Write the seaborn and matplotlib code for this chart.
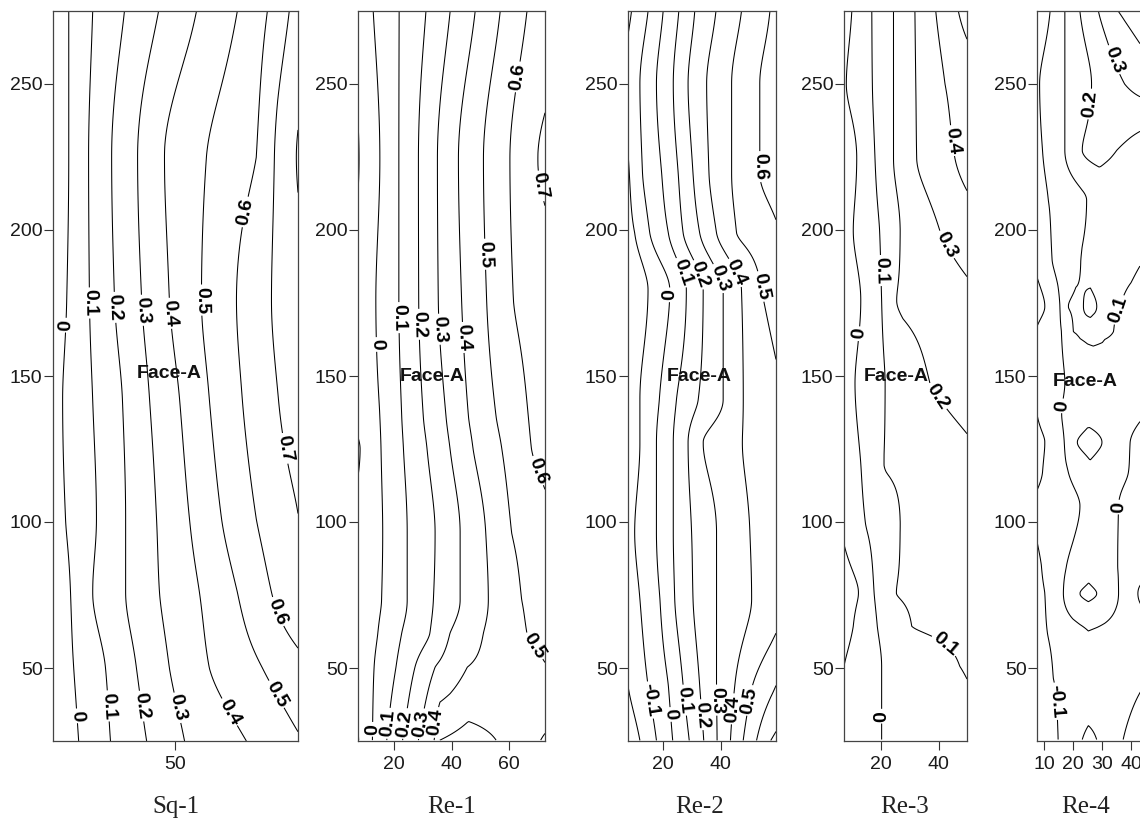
import numpy as np
import matplotlib
matplotlib.use("Agg")
import matplotlib.pyplot as plt
import seaborn as sns

# ------------------------------------------------------------------ data
# Each panel: rows of y (bottom -> top); for every row, x-nodes and the
# field value read at those nodes (contour crossings).
panel_names = ["Sq-1", "Re-1", "Re-2", "Re-3", "Re-4"]
contour_levels = [-0.3, -0.2, -0.1, 0.0, 0.1, 0.2, 0.3, 0.4, 0.5, 0.6, 0.7, 0.8, 0.9]

sq1_y = [25, 50, 76, 101, 142, 176, 225, 275]
sq1_x = [[8, 16.8, 27.7, 40.1, 53.1, 74.3, 92],
         [8, 15.1, 26.0, 36.6, 47.9, 61.6, 79.8, 92],
         [8, 14.0, 21.6, 32.9, 44.5, 58.2, 71.2, 82.9, 92],
         [8, 12.3, 22.9, 32.9, 43.5, 54.8, 65.8, 77.7, 92],
         [8, 11.3, 21.6, 31.8, 41.1, 51.4, 61.6, 72.9, 85.3, 92],
         [8, 12.7, 20.5, 29.1, 38.4, 47.9, 58.9, 70.9, 82.9, 92],
         [8, 13.4, 20.2, 28.1, 37.0, 46.2, 60.6, 77.7, 83.9, 90.0, 92],
         [8, 13.4, 21.6, 32.5, 44.2, 57.2, 71.2, 81.5, 89.0, 92]]
sq1_v = [[-0.08, 0, 0.1, 0.2, 0.3, 0.4, 0.49],
         [-0.065, 0, 0.1, 0.2, 0.3, 0.4, 0.5, 0.57],
         [-0.08, 0, 0.1, 0.2, 0.3, 0.4, 0.5, 0.6, 0.678],
         [-0.04, 0, 0.1, 0.2, 0.3, 0.4, 0.5, 0.6, 0.698],
         [-0.032, 0, 0.1, 0.2, 0.3, 0.4, 0.5, 0.6, 0.7, 0.754],
         [-0.06, 0, 0.1, 0.2, 0.3, 0.4, 0.5, 0.6, 0.7, 0.77],
         [-0.079, 0, 0.1, 0.2, 0.3, 0.4, 0.5, 0.6, 0.7, 0.79, 0.804],
         [-0.066, 0, 0.1, 0.2, 0.3, 0.4, 0.5, 0.6, 0.7, 0.74]]

re1_y = [25.3, 50.3, 62, 73.3, 96.3, 125, 136.1, 176.2, 224.3, 274.7]
re1_x = [[7.5, 12.5, 17.5, 23, 28.5, 34, 36, 46, 55.5, 64, 71, 72.5],
         [7.5, 13.1, 20.7, 27.3, 34.3, 45.5, 72.5],
         [7.5, 14.4, 22.7, 32.5, 39.5, 51.1, 66.2, 72.5],
         [7.5, 15.7, 24.6, 33.7, 43.0, 52.8, 64.4, 72.5],
         [7.5, 16.1, 24.6, 34.3, 43.0, 51.9, 60.9, 72.5],
         [7.5, 15.5, 23.3, 31.5, 39.5, 47.5, 57.5, 67.8, 72.5],
         [7.5, 15.1, 22.7, 30.2, 38.1, 45.9, 55.5, 66.7, 72.5],
         [7.5, 13.7, 21.7, 28.6, 35.4, 43.5, 52.2, 61.5, 72.5],
         [7.5, 15.1, 21.7, 28.5, 35.1, 42.4, 51.1, 60.3, 70.0, 72.5],
         [7.5, 12.8, 21.8, 31.1, 39.5, 48.2, 56.9, 66.2, 72.5]]
re1_v = [[-0.105, 0, 0.1, 0.2, 0.3, 0.4, 0.5, 0.535, 0.5, 0.45, 0.4, 0.39],
         [-0.074, 0, 0.1, 0.2, 0.3, 0.4, 0.496],
         [-0.07, 0, 0.1, 0.2, 0.3, 0.4, 0.5, 0.52],
         [-0.07, 0, 0.1, 0.2, 0.3, 0.4, 0.5, 0.54],
         [-0.07, 0, 0.1, 0.2, 0.3, 0.4, 0.5, 0.57],
         [-0.11, 0, 0.1, 0.2, 0.3, 0.4, 0.5, 0.6, 0.63],
         [-0.075, 0, 0.1, 0.2, 0.3, 0.4, 0.5, 0.6, 0.65],
         [-0.07, 0, 0.1, 0.2, 0.3, 0.4, 0.5, 0.6, 0.66],
         [-0.105, 0, 0.1, 0.2, 0.3, 0.4, 0.5, 0.6, 0.7, 0.712],
         [-0.06, 0, 0.1, 0.2, 0.3, 0.4, 0.5, 0.6, 0.64]]

re2_y = [25.2, 44, 73.6, 96.5, 127.2, 142, 179.5, 199, 219.4, 250.1, 274.9]
re2_x = [[8, 12.1, 17.8, 23.4, 29.1, 34.1, 38.7, 43.3, 47.7, 52.3, 57.2, 59],
         [8, 14.9, 21.9, 27.0, 32.7, 38.5, 44.8, 50.9, 59],
         [8, 12.1, 19.0, 24.1, 30.4, 38.5, 50.6, 59],
         [8, 10.3, 17.8, 23.6, 29.9, 38.5, 50.0, 59],
         [8, 12.1, 17.8, 23.6, 28.7, 33.9, 47.4, 59],
         [8, 12.1, 18.8, 24.7, 32.2, 40.8, 47.7, 59],
         [8, 14.9, 22.4, 28.1, 33.9, 40.8, 47.1, 54.0, 59],
         [8, 10.3, 15.5, 21.9, 27.0, 32.7, 38.5, 45.4, 59],
         [8, 13.0, 19.6, 25.3, 30.4, 35.9, 43.7, 53.4, 59],
         [8, 12.1, 17.8, 23.6, 28.7, 35.1, 43.7, 53.4, 59],
         [8, 9.2, 14.9, 20.1, 25.5, 31.0, 38.3, 47.1, 56.9, 59]]
re2_v = [[-0.27, -0.2, -0.1, 0, 0.1, 0.2, 0.3, 0.4, 0.5, 0.6, 0.7, 0.72],
         [-0.2, -0.1, 0, 0.1, 0.2, 0.3, 0.4, 0.5, 0.6],
         [-0.16, -0.1, 0, 0.1, 0.2, 0.3, 0.4, 0.47],
         [-0.13, -0.1, 0, 0.1, 0.2, 0.3, 0.4, 0.47],
         [-0.16, -0.1, 0, 0.1, 0.2, 0.3, 0.4, 0.47],
         [-0.16, -0.1, 0, 0.1, 0.2, 0.3, 0.4, 0.48],
         [-0.2, -0.1, 0, 0.1, 0.2, 0.3, 0.4, 0.5, 0.55],
         [-0.13, -0.1, 0, 0.1, 0.2, 0.3, 0.4, 0.5, 0.59],
         [-0.11, 0, 0.1, 0.2, 0.3, 0.4, 0.5, 0.6, 0.63],
         [-0.07, 0, 0.1, 0.2, 0.3, 0.4, 0.5, 0.6, 0.64],
         [-0.12, -0.1, 0, 0.1, 0.2, 0.3, 0.4, 0.5, 0.6, 0.62]]

re3_y = [25.5, 50.6, 64.3, 75.7, 99.6, 120, 147.5, 175.9, 199.8, 224.7, 250, 275]
re3_x = [[7.2, 20.2, 49.7],
         [7.2, 20.2, 47.2, 49.7],
         [7.2, 10.4, 18.7, 30.6, 49.7],
         [7.2, 12.2, 17.6, 25.3, 49.7],
         [7.2, 14.6, 26.6, 49.7],
         [7.2, 13.0, 21.0, 49.7],
         [7.2, 11.0, 21.4, 36.9, 49.7],
         [7.2, 13.0, 20.2, 25.4, 49.7],
         [7.2, 10.4, 19.5, 26.6, 40.3, 49.7],
         [7.2, 11.6, 17.9, 24.3, 32.3, 45.5, 49.7],
         [7.2, 8.0, 17.0, 24.3, 32.0, 42.1, 49.7],
         [7.2, 9.9, 16.8, 24.3, 31.7, 38.9, 46.7, 49.7]]
re3_v = [[-0.07, 0, 0.08],
         [-0.1, 0, 0.1, 0.105],
         [-0.125, -0.1, 0, 0.1, 0.125],
         [-0.13, -0.1, 0, 0.1, 0.14],
         [-0.085, 0, 0.1, 0.16],
         [-0.06, 0, 0.1, 0.18],
         [-0.035, 0, 0.1, 0.2, 0.24],
         [-0.07, 0, 0.1, 0.2, 0.28],
         [-0.035, 0, 0.1, 0.2, 0.3, 0.35],
         [-0.07, 0, 0.1, 0.2, 0.3, 0.4, 0.43],
         [-0.01, 0, 0.1, 0.2, 0.3, 0.4, 0.45],
         [-0.04, 0, 0.1, 0.2, 0.3, 0.4, 0.5, 0.54]]

re4_y = [25.5, 46.6, 61.9, 75.5, 85.2, 105.6, 117, 127.3, 137, 147.7, 165.3,
         173.8, 189.8, 210.2, 227.3, 250, 274.8]
re4_x = [[7.6, 14.9, 19, 25.3, 31.6, 37.3, 43, 50],
         [7.6, 13.2, 25, 35, 43, 50],
         [7.6, 11.2, 25.3, 35, 43, 50],
         [7.6, 10.3, 16.7, 20, 22.4, 25.3, 28.2, 31, 35.7, 39, 43.5, 50],
         [7.6, 9.1, 17.8, 25.5, 35.4, 43, 50],
         [7.6, 22.4, 29, 35.7, 43, 50],
         [7.6, 9.5, 18.4, 26, 39.1, 43, 50],
         [7.6, 10.3, 17.0, 21.5, 25.7, 30, 39.7, 43, 50],
         [7.6, 16.1, 25, 35, 43, 50],
         [7.6, 17.2, 25, 35, 43, 50],
         [7.6, 16.0, 20.1, 27, 34, 43, 50],
         [7.6, 10.3, 15.5, 18.4, 21, 23.6, 26, 28.2, 31, 36.2, 43, 50],
         [7.6, 12.8, 22.7, 30, 40, 43, 50],
         [7.6, 11.5, 24.7, 33, 43, 50],
         [7.6, 9.5, 17.2, 23.2, 29, 35.1, 43, 50],
         [7.6, 8.5, 17.2, 26.4, 37.8, 43, 50],
         [7.6, 12.1, 17.2, 22.4, 28.8, 35.7, 43, 50]]
re4_v = [[-0.14, -0.1, -0.05, 0.025, -0.03, 0, 0.03, 0.05],
         [-0.15, -0.1, -0.07, -0.03, -0.01, 0.01],
         [-0.13, -0.1, -0.005, -0.03, -0.04, -0.04],
         [-0.12, -0.1, 0, 0.07, 0.1, 0.11, 0.1, 0.07, 0, -0.03, 0.01, -0.02],
         [-0.11, -0.1, 0, 0.07, 0, -0.03, -0.04],
         [-0.09, 0, 0.04, 0, -0.04, -0.05],
         [-0.115, -0.1, 0, 0.075, 0, -0.02, -0.04],
         [-0.12, -0.1, 0, 0.1, 0.125, 0.1, 0, -0.02, -0.04],
         [-0.1, 0, 0.075, 0.05, 0.01, 0.0],
         [-0.08, 0, 0.06, 0.06, 0.04, 0.03],
         [-0.095, 0, 0.1, 0.11, 0.1, 0.05, 0.04],
         [-0.13, -0.1, 0, 0.1, 0.108, 0.1, 0.094, 0.1, 0.108, 0.1, 0.07, 0.06],
         [-0.08, 0, 0.1, 0.125, 0.115, 0.105, 0.1],
         [-0.05, 0, 0.1, 0.13, 0.15, 0.15],
         [-0.02, 0, 0.1, 0.2, 0.23, 0.2, 0.17, 0.16],
         [-0.01, 0, 0.1, 0.2, 0.3, 0.33, 0.34],
         [-0.08, 0, 0.1, 0.2, 0.3, 0.4, 0.45, 0.47]]

x_ticks = [[50], [20, 40, 60], [20, 40], [20, 40], [10, 20, 30, 40]]
y_ticks = [50, 100, 150, 200, 250]

# ------------------------------------------------------------- layout/style
W, H = 1140, 821
panel_px = [(53, 298), (358, 545), (628, 776), (844, 967), (1037, 1160)]
panel_xlim = [(8, 92), (7.5, 72.5), (8, 59), (7.2, 49.7), (7.6, 50)]
ylim = (25, 275)
name_xc = [176, 452, 700, 905, 1086]
face_pos = [(48, 151), (33.2, 150), (32.4, 150), (25.2, 150), (24.3, 148)]

label_pos = [
    [(12.7, 167.4), (19.9, 175), (29.1, 173.5), (38.4, 172.5), (48.6, 171.5),
     (58.9, 176), (71.2, 206.7), (86.3, 125), (85.6, 69.5), (84.6, 41),
     (69.2, 35.3), (52.1, 36.7), (38.7, 37), (26.7, 37), (16.1, 33.6)],
    [(14.0, 160.8), (22.1, 170), (28.7, 167.7), (35.4, 166), (44.1, 163.2),
     (51.7, 191.7), (63.2, 252.4), (70.5, 215), (68.5, 117), (68.0, 57),
     (12.8, 29), (18.6, 31), (23.8, 31), (29, 31), (33.6, 31.5)],
    [(22.4, 177.8), (27.6, 185.8), (33.9, 185.2), (40.8, 184), (47.1, 186.4),
     (54, 180.7), (51.7, 221.7), (15.5, 39), (21.5, 34), (27.5, 39),
     (33.3, 34), (38.5, 39), (44.2, 36), (49.4, 39)],
    [(12.2, 164.5), (19.1, 186.1), (43.8, 230.5), (42.1, 194.7), (39.2, 142.8),
     (39.8, 55.2), (20.2, 33.5)],
    [(33.3, 258), (25.3, 243.2), (35.6, 172.7), (16.1, 139.8), (36.2, 105.1),
     (13.8, 38.6)],
]

panels = [(sq1_y, sq1_x, sq1_v), (re1_y, re1_x, re1_v), (re2_y, re2_x, re2_v),
          (re3_y, re3_x, re3_v), (re4_y, re4_x, re4_v)]

sns.set_theme(style="ticks")
plt.rcParams['font.family'] = ['Liberation Sans', 'DejaVu Sans']
plt.rcParams['axes.edgecolor'] = '#444444'
plt.rcParams['axes.linewidth'] = 0.9
plt.rcParams['contour.negative_linestyle'] = 'solid'


def fmt(v):
    return '0' if abs(v) < 1e-9 else f'{v:.1f}'


def pchip_rows(y, Z, yf):
    """Shape-preserving cubic (PCHIP) interpolation of each column along y."""
    y = np.asarray(y, float)
    h = np.diff(y)
    d = np.diff(Z, axis=0) / h[:, None]
    m = np.zeros_like(Z)
    m[0] = d[0]
    m[-1] = d[-1]
    for k in range(1, len(y) - 1):
        w1 = 2 * h[k] + h[k - 1]
        w2 = h[k] + 2 * h[k - 1]
        a, b = d[k - 1], d[k]
        same = a * b > 0
        with np.errstate(divide='ignore', invalid='ignore'):
            hm = (w1 + w2) / (w1 / a + w2 / b)
        m[k] = np.where(same, hm, 0.0)
    idx = np.clip(np.searchsorted(y, yf, side='right') - 1, 0, len(y) - 2)
    hk = h[idx][:, None]
    t = ((yf - y[idx]) / h[idx])[:, None]
    h00 = 2 * t**3 - 3 * t**2 + 1
    h10 = t**3 - 2 * t**2 + t
    h01 = -2 * t**3 + 3 * t**2
    h11 = t**3 - t**2
    return (h00 * Z[idx] + h10 * hk * m[idx] + h01 * Z[idx + 1]
            + h11 * hk * m[idx + 1])


fig = plt.figure(figsize=(W / 100, H / 100), dpi=100)
fig.patch.set_facecolor('white')

for i, (ys, xs_nodes, vs_nodes) in enumerate(panels):
    l, r = panel_px[i]
    ax = fig.add_axes([l / W, 1 - 741 / H, (r - l) / W, (741 - 11) / H])
    xlo, xhi = panel_xlim[i]
    xg = np.linspace(xlo, xhi, 400)
    Z = np.array([np.interp(xg, xn, vn) for xn, vn in zip(xs_nodes, vs_nodes)])
    yf = np.linspace(ys[0], ys[-1], 600)
    Zf = pchip_rows(ys, Z, yf)
    cs = ax.contour(xg, yf, Zf, levels=contour_levels,
                    colors='black', linewidths=0.75, linestyles='solid')
    with plt.rc_context({'font.weight': 'bold'}):
        texts = ax.clabel(cs, manual=label_pos[i], inline=True,
                          inline_spacing=2, fmt=fmt, fontsize=14)
    for t in texts:
        t.set_fontweight('bold')
        t.set_clip_on(False)
    ax.set_xlim(xlo, xhi)
    ax.set_ylim(*ylim)
    ax.set_xticks(x_ticks[i])
    ax.set_yticks(y_ticks)
    ax.tick_params(axis='both', direction='out', length=6.5, width=0.8,
                   color='#333333', labelsize=14, labelcolor='#1a1a1a')
    ax.tick_params(axis='y', pad=1)
    ax.tick_params(axis='x', pad=4)
    ax.set_facecolor('white')
    for s in ax.spines.values():
        s.set_visible(True)
    fx, fy = face_pos[i]
    ax.text(fx, fy, 'Face-A', ha='center', va='center', fontsize=14,
            fontweight='bold', color='#111111')
    fig.text(name_xc[i] / W, 1 - 807 / H, panel_names[i], ha='center',
             va='center', fontsize=18, family=['Liberation Serif', 'DejaVu Serif'],
             color='#222222')

fig.savefig('out.png', dpi=100, facecolor='white')
